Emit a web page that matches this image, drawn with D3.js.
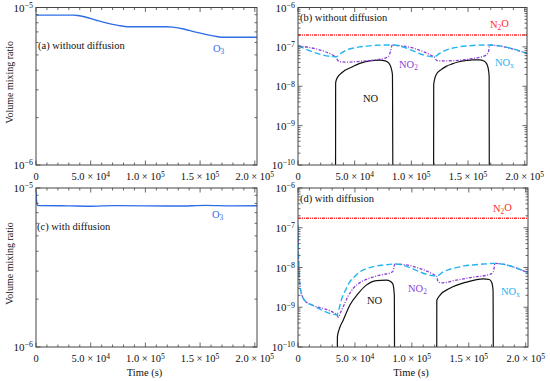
<!DOCTYPE html>
<html>
<head>
<meta charset="utf-8">
<script src="https://cdn.jsdelivr.net/npm/d3@7"></script>
<style>
  body { margin: 0; background: #fff; }
</style>
</head>
<body>
<div id="chart"></div>
<script>
// time axis
const timeTicks = [0, 5e4, 1e5, 1.5e5, 2e5];
const timeMax = 2.02e5;

// ozone, panels (a) and (c)
const o3NoDiff = [
  [0, 8.95e-6], [34e3, 8.95e-6], [38e3, 8.9e-6], [45e3, 8.7e-6], [55e3, 8.3e-6],
  [65e3, 7.95e-6], [75e3, 7.7e-6], [84e3, 7.55e-6], [119e3, 7.55e-6], [125e3, 7.5e-6],
  [135e3, 7.3e-6], [145e3, 7.0e-6], [155e3, 6.75e-6], [165e3, 6.55e-6], [171e3, 6.47e-6],
  [202e3, 6.47e-6]
];
const o3Diff = [
  [0, 9.5e-6], [300, 8.6e-6], [1000, 7.9e-6], [2000, 7.75e-6], [30e3, 7.72e-6],
  [50e3, 7.68e-6], [70e3, 7.75e-6], [100e3, 7.72e-6], [130e3, 7.7e-6], [155e3, 7.78e-6],
  [180e3, 7.72e-6], [202e3, 7.74e-6]
];

// panel (b): without diffusion
const n2oNoDiff = [[0, 2.0e-7], [202e3, 2.0e-7]];
const noxNoDiff = [
  [0, 1.07e-7], [33.5e3, 5.6e-8], [37e3, 6.6e-8], [42.8e3, 8.3e-8], [48e3, 9.2e-8],
  [54.5e3, 1.0e-7], [63e3, 1.06e-7], [69e3, 1.1e-7], [83e3, 1.12e-7], [120e3, 5.6e-8],
  [125e3, 6.8e-8], [130.7e3, 8.3e-8], [136e3, 9.2e-8], [142e3, 1.0e-7], [150e3, 1.06e-7],
  [157e3, 1.1e-7], [169e3, 1.12e-7], [202e3, 6.8e-8]
];
const no2NoDiff = [
  [0, 1.07e-7], [33.5e3, 5.6e-8], [35e3, 4.6e-8], [37e3, 4.2e-8], [42.8e3, 4.1e-8],
  [54.5e3, 4.3e-8], [69e3, 4.7e-8], [76e3, 5.1e-8], [79.5e3, 5.6e-8], [81.5e3, 7.5e-8],
  [83e3, 1.1e-7], [120e3, 5.6e-8], [121.5e3, 4.8e-8], [123.5e3, 4.4e-8], [130e3, 4.4e-8],
  [151e3, 4.9e-8], [162e3, 5.6e-8], [166e3, 6.2e-8], [168e3, 7.5e-8], [169e3, 1.1e-7],
  [202e3, 6.8e-8]
];
const noNoDiff = [
  [0, 1e-11], [33.1e3, 1e-11], [33.2e3, 1.2e-8], [34e3, 1.5e-8], [37e3, 2.0e-8],
  [41e3, 2.5e-8], [45.7e3, 2.9e-8], [54.5e3, 3.8e-8], [63.3e3, 4.4e-8], [72e3, 4.6e-8],
  [77e3, 4.4e-8], [80e3, 3.9e-8], [82e3, 3.0e-8], [83.3e3, 2.0e-8], [83.8e3, 1e-11],
  [119.6e3, 1e-11], [119.7e3, 1.1e-8], [120.5e3, 1.5e-8], [122e3, 2.0e-8], [126e3, 2.6e-8],
  [130.7e3, 3.2e-8], [136e3, 3.7e-8], [142e3, 4.2e-8], [148e3, 4.5e-8], [154e3, 4.7e-8],
  [160e3, 4.7e-8], [164e3, 4.4e-8], [166.5e3, 3.7e-8], [168e3, 2.6e-8], [168.6e3, 1.8e-8],
  [168.8e3, 1e-11], [202e3, 1e-11]
];

// panel (d): with diffusion
const n2oDiff = [[0, 1.73e-7], [202e3, 1.73e-7]];
const noxDiff = [
  [0, 1.15e-7], [300, 3e-8], [800, 8e-9], [1500, 4e-9], [3000, 2.2e-9], [5000, 1.6e-9],
  [8000, 1.3e-9], [12e3, 1.15e-9], [34e3, 6.5e-10], [36e3, 9e-10], [38.3e3, 1.6e-9],
  [42e3, 2.8e-9], [45.6e3, 4.4e-9], [50e3, 6.0e-9], [54.4e3, 7.8e-9], [60e3, 9.3e-9],
  [66e3, 1.05e-8], [75e3, 1.15e-8], [85e3, 1.22e-8], [121.7e3, 6.1e-9], [127.5e3, 7.8e-9],
  [133e3, 9.0e-9], [139e3, 9.9e-9], [146e3, 1.1e-8], [153.8e3, 1.16e-8], [163e3, 1.22e-8],
  [172.8e3, 1.27e-8], [202e3, 7.4e-9]
];
const no2Diff = [
  [0, 1.15e-7], [300, 3e-8], [800, 8e-9], [1500, 4e-9], [3000, 2.2e-9], [5000, 1.6e-9],
  [8000, 1.3e-9], [12e3, 1.15e-9], [34e3, 6.5e-10], [35.5e3, 5.6e-10], [37e3, 7e-10],
  [39.8e3, 1.04e-9], [44e3, 1.9e-9], [48.6e3, 3.0e-9], [54e3, 4.1e-9], [60e3, 5.0e-9],
  [67e3, 5.9e-9], [75e3, 6.7e-9], [81e3, 7.3e-9], [83.3e3, 8.0e-9], [84.5e3, 1.1e-8],
  [85e3, 1.22e-8], [121.7e3, 6.1e-9], [123e3, 4.4e-9], [126e3, 4.1e-9], [139e3, 4.8e-9],
  [153.8e3, 5.7e-9], [168.5e3, 6.7e-9], [171.5e3, 7.8e-9], [172.5e3, 1.1e-8],
  [172.8e3, 1.27e-8], [202e3, 7.4e-9]
];
const noDiff = [
  [0, 1e-11], [34.5e3, 1e-11], [34.6e3, 1.8e-10], [36e3, 2.7e-10], [39.8e3, 4.8e-10],
  [45.6e3, 1.14e-9], [52.8e3, 2.2e-9], [60e3, 3.6e-9], [68.8e3, 4.7e-9], [77.6e3, 4.8e-9],
  [81e3, 4.5e-9], [83.4e3, 3.8e-9], [84.6e3, 2.0e-9], [84.9e3, 1e-11], [121.8e3, 1e-11],
  [121.9e3, 1.5e-9], [124.6e3, 2.0e-9], [133.4e3, 3.0e-9], [148e3, 4.3e-9], [162.7e3, 5.2e-9],
  [168e3, 5.0e-9], [170e3, 4.3e-9], [171.3e3, 2.7e-9], [171.7e3, 1e-11], [202e3, 1e-11]
];

const width = 550;
const height = 381;
const serif = "'Liberation Serif', 'Times New Roman', serif";

const svg = d3
  .select("#chart")
  .append("svg")
  .attr("width", width)
  .attr("height", height)
  .attr("font-family", serif);

// colours / line styles
const styles = {
  o3: { color: "#2f6de8", dash: null, w: 1.4 },
  n2o: { color: "#ff2a2a", dash: "3,1,1,1,1,1", w: 1.4 },
  nox: { color: "#22b4f0", dash: "6,3", w: 1.4 },
  no2: { color: "#8a3fd6", dash: "3,1.5,1,1.5", w: 1.3 },
  no: { color: "#111", dash: null, w: 1.2 },
};

// panel frames
const panels = [
  {
    id: "a", x0: 36, x1: 257, y0: 7.5, y1: 165, yDomain: [1e-6, 1e-5],
    title: "(a) without diffusion", tx: 38, ty: 49,
    series: [["o3", o3NoDiff]],
    labels: [{ key: "o3", base: "O", sub: "3", x: 213, y: 52 }],
  },
  {
    id: "b", x0: 298, x1: 527, y0: 7.5, y1: 165, yDomain: [1e-10, 1e-6],
    title: "(b) without diffusion", tx: 300, ty: 21,
    series: [["n2o", n2oNoDiff], ["no", noNoDiff], ["no2", no2NoDiff], ["nox", noxNoDiff]],
    labels: [
      { key: "n2o", base: "N", sub: "2", after: "O", x: 490, y: 28 },
      { key: "no2", base: "NO", sub: "2", x: 399, y: 68 },
      { key: "nox", base: "NO", sub: "x", x: 495, y: 66 },
      { key: "no", base: "NO", x: 363, y: 102 },
    ],
  },
  {
    id: "c", x0: 36, x1: 257, y0: 188, y1: 347, yDomain: [1e-6, 1e-5],
    title: "(c) with diffusion", tx: 37, ty: 230,
    series: [["o3", o3Diff]],
    labels: [{ key: "o3", base: "O", sub: "3", x: 212, y: 218 }],
  },
  {
    id: "d", x0: 298, x1: 528, y0: 188, y1: 347, yDomain: [1e-10, 1e-6],
    title: "(d) with diffusion", tx: 300, ty: 202,
    series: [["n2o", n2oDiff], ["no", noDiff], ["no2", no2Diff], ["nox", noxDiff]],
    labels: [
      { key: "n2o", base: "N", sub: "2", after: "O", x: 493, y: 212 },
      { key: "no2", base: "NO", sub: "2", x: 408, y: 292 },
      { key: "nox", base: "NO", sub: "x", x: 501, y: 295 },
      { key: "no", base: "NO", x: 367, y: 304 },
    ],
  },
];

// "10^-n" or "5.0 x 10^4" style labels
function powerLabel(sel, v, isTime) {
  if (v === 0) {
    sel.text("0");
    return;
  }
  const e = Math.floor(Math.log10(v) + 1e-9);
  const m = v / Math.pow(10, e);
  sel.text(isTime ? m.toFixed(1) + " \u00d7 10" : "10");
  sel
    .append("tspan")
    .attr("dy", "-0.45em")
    .attr("font-size", "0.72em")
    .text(e < 0 ? "\u2212" + -e : e);
}

function drawPanel(p) {
  const x = d3.scaleLinear().domain([0, timeMax]).range([p.x0, p.x1]);
  const y = d3.scaleLog().domain(p.yDomain).range([p.y1, p.y0]);
  const g = svg.append("g").attr("class", "panel-" + p.id);

  g.append("clipPath")
    .attr("id", "clip-" + p.id)
    .append("rect")
    .attr("x", p.x0)
    .attr("y", p.y0)
    .attr("width", p.x1 - p.x0)
    .attr("height", p.y1 - p.y0);

  // curves
  const line = d3
    .line()
    .x((d) => x(d[0]))
    .y((d) => y(d[1]))
    .curve(d3.curveMonotoneX);

  g.append("g")
    .attr("clip-path", "url(#clip-" + p.id + ")")
    .selectAll("path")
    .data(p.series)
    .join("path")
    .attr("d", (d) => line(d[1]))
    .attr("fill", "none")
    .attr("stroke", (d) => styles[d[0]].color)
    .attr("stroke-width", (d) => styles[d[0]].w)
    .attr("stroke-dasharray", (d) => styles[d[0]].dash)
    .attr("stroke-linejoin", "round");

  // ticks on all four sides, pointing inward
  const xMinor = d3.range(0, timeMax, 1e4);
  const yDecades = [];
  const yMinor = [];
  for (let e = Math.log10(p.yDomain[0]); e <= Math.log10(p.yDomain[1]) + 1e-9; e++) {
    yDecades.push(Math.pow(10, e));
    if (e < Math.log10(p.yDomain[1]) - 1e-9) {
      for (let k = 2; k <= 9; k++) yMinor.push(k * Math.pow(10, e));
    }
  }
  const ticks = [];
  xMinor.forEach((t) => {
    const len = timeTicks.includes(t) ? 4.5 : 2.5;
    ticks.push([x(t), p.y1, x(t), p.y1 - len]);
    ticks.push([x(t), p.y0, x(t), p.y0 + len]);
  });
  yDecades.forEach((v) => {
    ticks.push([p.x0, y(v), p.x0 + 4.5, y(v)]);
    ticks.push([p.x1, y(v), p.x1 - 4.5, y(v)]);
  });
  yMinor.forEach((v) => {
    ticks.push([p.x0, y(v), p.x0 + 2.5, y(v)]);
    ticks.push([p.x1, y(v), p.x1 - 2.5, y(v)]);
  });
  g.append("g")
    .selectAll("line")
    .data(ticks)
    .join("line")
    .attr("x1", (d) => d[0])
    .attr("y1", (d) => d[1])
    .attr("x2", (d) => d[2])
    .attr("y2", (d) => d[3])
    .attr("stroke", "#444")
    .attr("stroke-width", 0.8);

  // frame
  g.append("rect")
    .attr("x", p.x0)
    .attr("y", p.y0)
    .attr("width", p.x1 - p.x0)
    .attr("height", p.y1 - p.y0)
    .attr("fill", "none")
    .attr("stroke", "#444")
    .attr("stroke-width", 1);

  // tick labels
  g.append("g")
    .selectAll("text")
    .data(timeTicks)
    .join("text")
    .attr("x", (d) => x(d))
    .attr("y", p.y1 + 15)
    .attr("text-anchor", "middle")
    .attr("font-size", 10.5)
    .attr("fill", "#111")
    .each(function (d) {
      powerLabel(d3.select(this), d, true);
    });

  g.append("g")
    .selectAll("text")
    .data(yDecades)
    .join("text")
    .attr("x", p.x0 - 3)
    .attr("y", (d) => y(d) + 4)
    .attr("text-anchor", "end")
    .attr("font-size", 11)
    .attr("fill", "#111")
    .each(function (d) {
      powerLabel(d3.select(this), d, false);
    });

  // panel title
  g.append("text")
    .attr("x", p.tx)
    .attr("y", p.ty)
    .attr("font-size", 10.5)
    .attr("fill", "#111")
    .text(p.title);

  // species labels
  p.labels.forEach((l) => {
    const t = g
      .append("text")
      .attr("x", l.x)
      .attr("y", l.y)
      .attr("font-size", 10.5)
      .attr("fill", styles[l.key].color)
      .text(l.base);
    if (l.sub) {
      t.append("tspan")
        .attr("dy", "0.3em")
        .attr("font-size", "0.7em")
        .text(l.sub);
    }
    if (l.after) {
      t.append("tspan")
        .attr("dy", "-0.3em")
        .text(l.after);
    }
  });

  // axis titles
  if (p.x0 < 100) {
    g.append("text")
      .attr("transform", "translate(13," + ((p.y0 + p.y1) / 2 - 4) + ") rotate(-90)")
      .attr("text-anchor", "middle")
      .attr("font-size", 10)
      .attr("fill", "#111")
      .text("Volume mixing ratio");
  }
  if (p.y0 > 100) {
    g.append("text")
      .attr("x", (p.x0 + p.x1) / 2 - 2)
      .attr("y", p.y1 + 29)
      .attr("text-anchor", "middle")
      .attr("font-size", 10.5)
      .attr("fill", "#111")
      .text("Time (s)");
  }
}

panels.forEach(drawPanel);
</script>
</body>
</html>
